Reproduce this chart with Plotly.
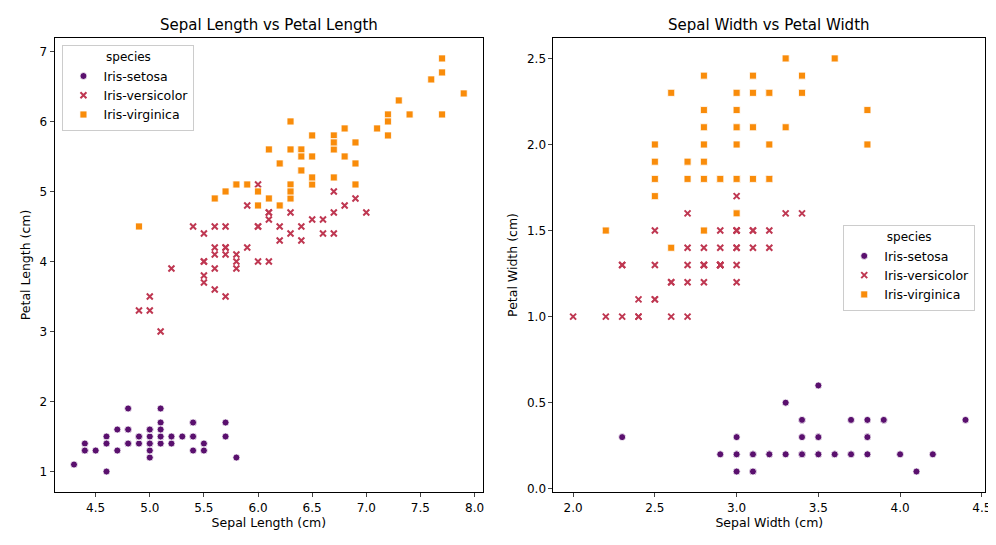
import plotly.graph_objects as go

species = ["Iris-setosa", "Iris-versicolor", "Iris-virginica"]
colors = ["#5a106e", "#bf3852", "#f98c0a"]
symbols = ["circle", "x-thin", "square"]

# iris: sepal length, sepal width, petal length, petal width per species
sepal_length = {
    "Iris-setosa": [5.1,4.9,4.7,4.6,5.0,5.4,4.6,5.0,4.4,4.9,5.4,4.8,4.8,4.3,5.8,5.7,5.4,5.1,5.7,5.1,5.4,5.1,4.6,5.1,4.8,5.0,5.0,5.2,5.2,4.7,4.8,5.4,5.2,5.5,4.9,5.0,5.5,4.9,4.4,5.1,5.0,4.5,4.4,5.0,5.1,4.8,5.1,4.6,5.3,5.0],
    "Iris-versicolor": [7.0,6.4,6.9,5.5,6.5,5.7,6.3,4.9,6.6,5.2,5.0,5.9,6.0,6.1,5.6,6.7,5.6,5.8,6.2,5.6,5.9,6.1,6.3,6.1,6.4,6.6,6.8,6.7,6.0,5.7,5.5,5.5,5.8,6.0,5.4,6.0,6.7,6.3,5.6,5.5,5.5,6.1,5.8,5.0,5.6,5.7,5.7,6.2,5.1,5.7],
    "Iris-virginica": [6.3,5.8,7.1,6.3,6.5,7.6,4.9,7.3,6.7,7.2,6.5,6.4,6.8,5.7,5.8,6.4,6.5,7.7,7.7,6.0,6.9,5.6,7.7,6.3,6.7,7.2,6.2,6.1,6.4,7.2,7.4,7.9,6.4,6.3,6.1,7.7,6.3,6.4,6.0,6.9,6.7,6.9,5.8,6.8,6.7,6.7,6.3,6.5,6.2,5.9],
}
sepal_width = {
    "Iris-setosa": [3.5,3.0,3.2,3.1,3.6,3.9,3.4,3.4,2.9,3.1,3.7,3.4,3.0,3.0,4.0,4.4,3.9,3.5,3.8,3.8,3.4,3.7,3.6,3.3,3.4,3.0,3.4,3.5,3.4,3.2,3.1,3.4,4.1,4.2,3.1,3.2,3.5,3.1,3.0,3.4,3.5,2.3,3.2,3.5,3.8,3.0,3.8,3.2,3.7,3.3],
    "Iris-versicolor": [3.2,3.2,3.1,2.3,2.8,2.8,3.3,2.4,2.9,2.7,2.0,3.0,2.2,2.9,2.9,3.1,3.0,2.7,2.2,2.5,3.2,2.8,2.5,2.8,2.9,3.0,2.8,3.0,2.9,2.6,2.4,2.4,2.7,2.7,3.0,3.4,3.1,2.3,3.0,2.5,2.6,3.0,2.6,2.3,2.7,3.0,2.9,2.9,2.5,2.8],
    "Iris-virginica": [3.3,2.7,3.0,2.9,3.0,3.0,2.5,2.9,2.5,3.6,3.2,2.7,3.0,2.5,2.8,3.2,3.0,3.8,2.6,2.2,3.2,2.8,2.8,2.7,3.3,3.2,2.8,3.0,2.8,3.0,2.8,3.8,2.8,2.8,2.6,3.0,3.4,3.1,3.0,3.1,3.1,3.1,2.7,3.2,3.3,3.0,2.5,3.0,3.4,3.0],
}
petal_length = {
    "Iris-setosa": [1.4,1.4,1.3,1.5,1.4,1.7,1.4,1.5,1.4,1.5,1.5,1.6,1.4,1.1,1.2,1.5,1.3,1.4,1.7,1.5,1.7,1.5,1.0,1.7,1.9,1.6,1.6,1.5,1.4,1.6,1.6,1.5,1.5,1.4,1.5,1.2,1.3,1.5,1.3,1.5,1.3,1.3,1.3,1.6,1.9,1.4,1.6,1.4,1.5,1.4],
    "Iris-versicolor": [4.7,4.5,4.9,4.0,4.6,4.5,4.7,3.3,4.6,3.9,3.5,4.2,4.0,4.7,3.6,4.4,4.5,4.1,4.5,3.9,4.8,4.0,4.9,4.7,4.3,4.4,4.8,5.0,4.5,3.5,3.8,3.7,3.9,5.1,4.5,4.5,4.7,4.4,4.1,4.0,4.4,4.6,4.0,3.3,4.2,4.2,4.2,4.3,3.0,4.1],
    "Iris-virginica": [6.0,5.1,5.9,5.6,5.8,6.6,4.5,6.3,5.8,6.1,5.1,5.3,5.5,5.0,5.1,5.3,5.5,6.7,6.9,5.0,5.7,4.9,6.7,4.9,5.7,6.0,4.8,4.9,5.6,5.8,6.1,6.4,5.6,5.1,5.6,6.1,5.6,5.5,4.8,5.4,5.6,5.1,5.1,5.9,5.7,5.2,5.0,5.2,5.4,5.1],
}
petal_width = {
    "Iris-setosa": [0.2,0.2,0.2,0.2,0.2,0.4,0.3,0.2,0.2,0.1,0.2,0.2,0.1,0.1,0.2,0.4,0.4,0.3,0.3,0.3,0.2,0.4,0.2,0.5,0.2,0.2,0.4,0.2,0.2,0.2,0.2,0.4,0.1,0.2,0.1,0.2,0.2,0.1,0.2,0.2,0.3,0.3,0.2,0.6,0.4,0.3,0.2,0.2,0.2,0.2],
    "Iris-versicolor": [1.4,1.5,1.5,1.3,1.5,1.3,1.6,1.0,1.3,1.4,1.0,1.5,1.0,1.4,1.3,1.4,1.5,1.0,1.5,1.1,1.8,1.3,1.5,1.2,1.3,1.4,1.4,1.7,1.5,1.0,1.1,1.0,1.2,1.6,1.5,1.6,1.5,1.3,1.3,1.3,1.2,1.4,1.2,1.0,1.3,1.2,1.3,1.3,1.1,1.3],
    "Iris-virginica": [2.5,1.9,2.1,1.8,2.2,2.1,1.7,1.8,1.8,2.5,2.0,1.9,2.1,2.0,2.4,2.3,1.8,2.2,2.3,1.5,2.3,2.0,2.0,1.8,2.1,1.8,1.8,1.8,2.1,1.6,1.9,2.0,2.2,1.5,1.4,2.3,2.4,1.8,1.8,2.1,2.4,2.3,1.9,2.3,2.5,2.3,1.9,2.0,2.3,1.8],
}

fig = go.Figure()
for sp, c, s in zip(species, colors, symbols):
    mk = dict(color=c, symbol=s, size=7 if s != "x-thin" else 6,
              line=dict(color="white" if s != "x-thin" else c, width=0.8 if s != "x-thin" else 2))
    fig.add_trace(go.Scatter(x=sepal_length[sp], y=petal_length[sp], mode="markers", name=sp,
                             marker=mk, xaxis="x", yaxis="y", legend="legend"))
    fig.add_trace(go.Scatter(x=sepal_width[sp], y=petal_width[sp], mode="markers", name=sp,
                             marker=mk, xaxis="x2", yaxis="y2", legend="legend2"))

ax = dict(showline=True, linecolor="black", mirror=True, ticks="outside", ticklen=4,
          showgrid=False, zeroline=False, tickfont=dict(size=12, color="black"))
lg = dict(title=dict(text="species", side="top center", font=dict(size=12)),
          bgcolor="rgba(255,255,255,0.8)", bordercolor="#cccccc", borderwidth=1,
          font=dict(size=12.5, color="black"), tracegroupgap=0)

fig.update_layout(
    width=996, height=545, margin=dict(l=0, r=0, t=0, b=0),
    plot_bgcolor="white", paper_bgcolor="white",
    font=dict(family="DejaVu Sans", color="black"),
    xaxis=dict(ax, domain=[0.047, 0.48], range=[4.12, 8.08], dtick=0.5, tickformat=".1f",
               title=dict(text="Sepal Length (cm)", font=dict(size=12.5), standoff=4)),
    yaxis=dict(ax, domain=[0.105, 0.945], range=[0.705, 7.195], dtick=1,
               title=dict(text="Petal Length (cm)", font=dict(size=12.5), standoff=6)),
    xaxis2=dict(ax, domain=[0.551, 0.987], range=[1.88, 4.52], dtick=0.5, tickformat=".1f",
                anchor="y2", title=dict(text="Sepal Width (cm)", font=dict(size=12.5), standoff=4)),
    yaxis2=dict(ax, domain=[0.105, 0.945], range=[-0.02, 2.62], dtick=0.5, tickformat=".1f",
                anchor="x2", title=dict(text="Petal Width (cm)", font=dict(size=12.5), standoff=6)),
    legend=dict(lg, x=0.055, y=0.932, xanchor="left", yanchor="top"),
    legend2=dict(lg, x=0.977, y=0.52, xanchor="right", yanchor="middle"),
    annotations=[
        dict(text="Sepal Length vs Petal Length", x=0.2635, y=0.948, xref="paper", yref="paper",
             xanchor="center", yanchor="bottom", showarrow=False, font=dict(size=15)),
        dict(text="Sepal Width vs Petal Width", x=0.769, y=0.948, xref="paper", yref="paper",
             xanchor="center", yanchor="bottom", showarrow=False, font=dict(size=15)),
    ],
)

fig.write_html("out.html")
